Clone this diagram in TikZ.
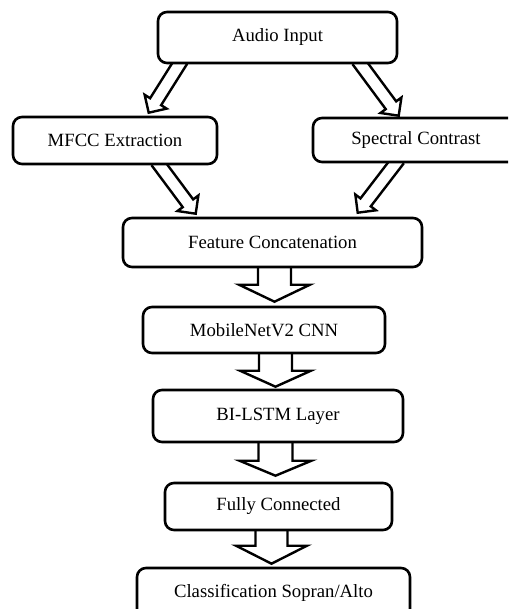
\documentclass[tikz,border=0pt]{standalone}
\usepackage{fontspec}
\setmainfont{Liberation Serif}
\usetikzlibrary{calc,backgrounds}
\tikzset{
  box/.style={draw, line width=2.6pt, rounded corners=9pt, fill=white,
    inner sep=0pt, align=center, font=\fontsize{18.7}{22}\selectfont},
  arrowline/.style={draw, line width=2.4pt, line join=miter, fill=white}
}
\newcommand\hollowarrow[5]{%
  \path (#1) coordinate (ha-s) (#2) coordinate (ha-t);
  \path ($(ha-t)!#5!(ha-s)$) coordinate (ha-b);
  \draw[arrowline] ($(ha-s)!#3!90:(ha-t)$) -- ($(ha-b)!#3!90:(ha-t)$)
    -- ($(ha-b)!#4!90:(ha-t)$) -- (ha-t) -- ($(ha-b)!#4!-90:(ha-t)$)
    -- ($(ha-b)!#3!-90:(ha-t)$) -- ($(ha-s)!#3!-90:(ha-t)$);
}
\begin{document}
\begin{tikzpicture}[x=1pt,y=-1pt]
\useasboundingbox (0,0) rectangle (508,609);
\clip (0,0) rectangle (508,609);
\node[box, minimum width=239pt, minimum height=51pt] (audio) at (277.5,37.5) {Audio Input};
\node[box, minimum width=204pt, minimum height=47pt] (mfcc) at (115,140.5) {MFCC Extraction};
\node[box, minimum width=206pt, minimum height=44pt] (spec) at (416,140) {Spectral Contrast};
\node[box, minimum width=299pt, minimum height=49pt] (feat) at (272.5,242.5) {Feature Concatenation};
\node[box, minimum width=242pt, minimum height=46pt] (mob) at (264,330) {MobileNetV2 CNN};
\node[box, minimum width=250pt, minimum height=52pt] (lstm) at (278,416) {BI-LSTM Layer};
\node[box, minimum width=227pt, minimum height=47pt] (fc) at (278.5,506.5) {Fully Connected};
\node[box, minimum width=273pt, minimum height=50pt] (cls) at (273.5,593) {Classification Sopran/Alto};
\begin{pgfonlayer}{background}
  \hollowarrow{$(audio.south west)+(25,-4)$}{$(mfcc.north west)+(137,-3)$}{6.5pt}{13pt}{13pt}
  \hollowarrow{$(audio.south west)+(201,-4)$}{$(spec.north west)+(87,-1)$}{6.5pt}{13pt}{13pt}
  \hollowarrow{$(mfcc.south west)+(145,-4)$}{$(feat.north west)+(74,-3)$}{6.5pt}{13pt}{13pt}
  \hollowarrow{$(spec.south west)+(87,-4)$}{$(feat.north west)+(236,-4)$}{6.5pt}{13pt}{13pt}
  \hollowarrow{$(feat.south)+(2,-3)$}{$(mob.north)+(10.5,-4)$}{16.5pt}{35.5pt}{17pt}
  \hollowarrow{$(mob.south)+(11.5,-3)$}{$(lstm.north)+(-2.5,-2)$}{16.5pt}{35.5pt}{16pt}
  \hollowarrow{$(lstm.south)+(-2.5,-3)$}{$(fc.north)+(-3,-6)$}{17pt}{36pt}{15pt}
  \hollowarrow{$(fc.south)+(-7,-3)$}{$(cls.north)+(-2,-3)$}{16pt}{35.5pt}{18pt}
\end{pgfonlayer}
\end{tikzpicture}
\end{document}
